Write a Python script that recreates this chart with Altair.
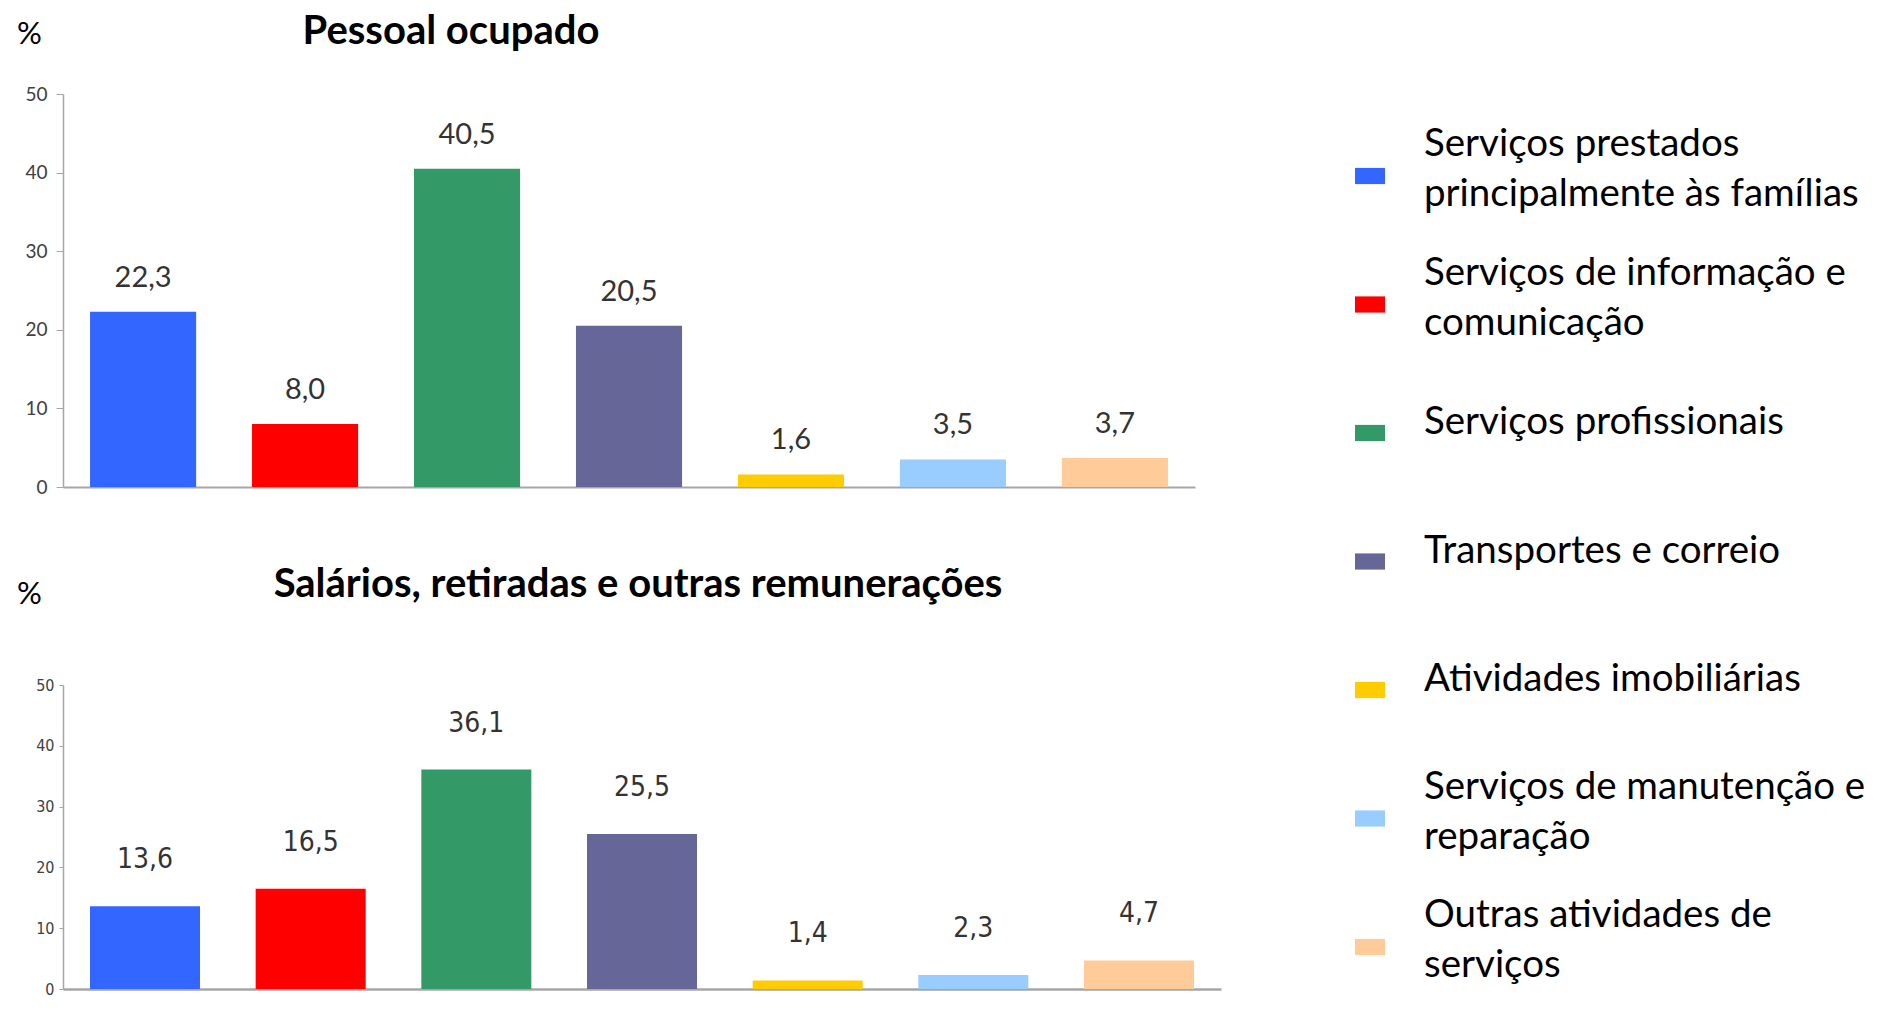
import altair as alt
import pandas as pd

categories = [
    "Serviços prestados principalmente às famílias",
    "Serviços de informação e comunicação",
    "Serviços profissionais",
    "Transportes e correio",
    "Atividades imobiliárias",
    "Serviços de manutenção e reparação",
    "Outras atividades de serviços",
]
legend_text = [
    "Serviços prestados\nprincipalmente às famílias",
    "Serviços de informação e\ncomunicação",
    "Serviços profissionais",
    "Transportes e correio",
    "Atividades imobiliárias",
    "Serviços de manutenção e\nreparação",
    "Outras atividades de\nserviços",
]
colors = ["#3366FF", "#FF0000", "#339966", "#666699", "#FFCC00", "#99CCFF", "#FFCC99"]
pessoal = [22.3, 8.0, 40.5, 20.5, 1.6, 3.5, 3.7]
salarios = [13.6, 16.5, 36.1, 25.5, 1.4, 2.3, 4.7]
y_ticks = [0, 10, 20, 30, 40, 50]
title_top = "Pessoal ocupado"
title_bottom = "Salários, retiradas e outras remunerações"
unit = "%"


def fmt(v):
    return f"{v:.1f}".replace(".", ",")


color_scale = alt.Scale(domain=categories, range=colors)
NARROW = "'Liberation Sans Narrow', 'DejaVu Sans Condensed', 'Roboto Condensed', Lato"


def panel(values, title, width, height, pi, po, tick_font, tick_size, tick_len,
          label_pad, label_font, label_size, label_dy, title_dx, title_dy, unit_y,
          domain_w):
    df = pd.DataFrame({"cat": categories, "val": values, "lab": [fmt(v) for v in values]})
    base = alt.Chart(df)
    bars = base.mark_bar().encode(
        x=alt.X("cat:N", sort=categories,
                scale=alt.Scale(paddingInner=pi, paddingOuter=po),
                axis=alt.Axis(labels=False, ticks=False, title=None, domain=True,
                              domainColor="#A6A6A6", domainWidth=domain_w)),
        y=alt.Y("val:Q", scale=alt.Scale(domain=[0, 50], nice=False),
                axis=alt.Axis(values=y_ticks, title=unit, titleAngle=0, titleX=-34,
                              titleY=unit_y, titleAlign="center", titleBaseline="middle",
                              titleFont="Lato", titleFontSize=31, titleFontWeight="normal",
                              titleColor="black", labelFont=tick_font, labelFontSize=tick_size,
                              labelColor="#404040", tickSize=tick_len, labelPadding=label_pad,
                              domainColor="#A6A6A6", tickColor="#A6A6A6", domainWidth=1.5,
                              grid=False)),
        color=alt.Color("cat:N", scale=color_scale, legend=None),
    )
    labels = base.mark_text(dy=label_dy, baseline="middle", font=label_font,
                            fontSize=label_size, color="#333333").encode(
        x=alt.X("cat:N", sort=categories), y="val:Q", text="lab:N")
    ttl = alt.Chart(pd.DataFrame({"t": [title]})).mark_text(
        font="Lato", fontSize=40, fontWeight="bold", align="center",
        baseline="middle", color="black").encode(
        x=alt.value(title_dx), y=alt.value(title_dy), text="t:N")
    return alt.layer(bars, labels, ttl).properties(width=width, height=height)


top = panel(pessoal, title_top, 1132, 393, 0.345, 0.167, "Lato", 19, 7, 9,
            "Lato", 29, -34, 388, -62, -60, 2)
bottom = panel(salarios, title_bottom, 1158, 304, 0.336, 0.163, NARROW, 16, 4, 5,
               NARROW, 28, -46, 575, -100, -91, 2.5)

leg_df = pd.DataFrame({
    "cat": categories,
    "txt": legend_text,
    "nlines": [t.count("\n") + 1 for t in legend_text],
})
leg_y = alt.Y("cat:N", sort=categories,
              scale=alt.Scale(type="point", domain=categories, range=[82, 853], padding=0),
              axis=None)
leg_base = alt.Chart(leg_df).encode(y=leg_y)
swatch = leg_base.mark_point(shape="M-1,-0.54H1V0.54H-1Z", filled=True, size=900,
                             opacity=1, strokeWidth=0).encode(
    x=alt.value(28), color=alt.Color("cat:N", scale=color_scale, legend=None))
text_style = dict(align="left", baseline="middle", font="Lato", fontSize=38.5,
                  lineBreak="\n", lineHeight=50, color="black")
texts_one = leg_base.transform_filter("datum.nlines == 1").mark_text(
    dy=-11, **text_style).encode(x=alt.value(82), text="txt:N")
texts_two = leg_base.transform_filter("datum.nlines == 2").mark_text(
    dy=-32, **text_style).encode(x=alt.value(82), text="txt:N")
legend = alt.layer(swatch, texts_one, texts_two).properties(width=500, height=860)

chart = alt.hconcat(
    alt.vconcat(top, bottom, spacing=198, bounds="flush"),
    legend, spacing=1279, bounds="flush",
).properties(
    padding={"left": 8, "top": 4, "right": 2, "bottom": 0}
).configure(font="Lato", view=alt.ViewConfig(stroke=None))

chart.save("out.html", embed_options={"renderer": "svg", "actions": False})
